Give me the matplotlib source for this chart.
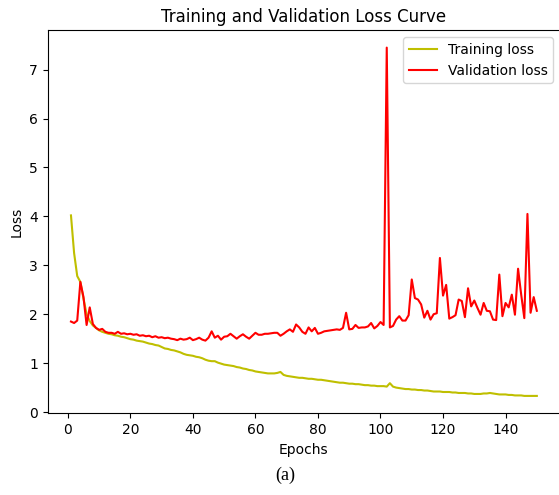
import matplotlib
matplotlib.use("Agg")
import matplotlib.pyplot as plt

# loss values per epoch
train_loss = [
    4.02, 3.25, 2.78, 2.66, 2.32, 2.00, 1.86, 1.77, 1.72, 1.67, 1.64, 1.62, 1.60, 1.59, 1.57,
    1.56, 1.54, 1.53, 1.51, 1.49, 1.48, 1.46, 1.45, 1.44, 1.42, 1.40, 1.39, 1.37, 1.36, 1.33,
    1.30, 1.29, 1.27, 1.26, 1.24, 1.22, 1.19, 1.17, 1.16, 1.15, 1.13, 1.12, 1.10, 1.07, 1.05,
    1.04, 1.04, 1.01, 0.99, 0.97, 0.96, 0.95, 0.94, 0.92, 0.91, 0.89, 0.88, 0.86, 0.85, 0.83,
    0.82, 0.81, 0.80, 0.79, 0.79, 0.79, 0.80, 0.82, 0.76, 0.74, 0.73, 0.72, 0.71, 0.70, 0.70,
    0.69, 0.68, 0.68, 0.67, 0.66, 0.66, 0.65, 0.64, 0.63, 0.62, 0.61, 0.60, 0.60, 0.59, 0.58,
    0.58, 0.57, 0.57, 0.56, 0.55, 0.55, 0.54, 0.54, 0.53, 0.53, 0.53, 0.52, 0.59, 0.52, 0.50,
    0.49, 0.48, 0.47, 0.47, 0.46, 0.46, 0.45, 0.45, 0.44, 0.44, 0.43, 0.42, 0.42, 0.42, 0.41,
    0.41, 0.41, 0.40, 0.40, 0.39, 0.39, 0.39, 0.38, 0.38, 0.37, 0.37, 0.37, 0.38, 0.38, 0.39,
    0.38, 0.37, 0.36, 0.36, 0.36, 0.35, 0.35, 0.34, 0.34, 0.34, 0.33, 0.33, 0.33, 0.33, 0.33,
]

val_loss = [
    1.85, 1.82, 1.87, 2.66, 2.35, 1.78, 2.14, 1.80, 1.72, 1.68, 1.70, 1.64, 1.62, 1.62, 1.60,
    1.64, 1.60, 1.61, 1.59, 1.60, 1.58, 1.59, 1.56, 1.57, 1.55, 1.56, 1.53, 1.55, 1.52, 1.53,
    1.51, 1.52, 1.50, 1.49, 1.47, 1.50, 1.48, 1.49, 1.52, 1.47, 1.49, 1.52, 1.48, 1.46, 1.52,
    1.65, 1.52, 1.56, 1.48, 1.54, 1.55, 1.60, 1.55, 1.50, 1.55, 1.59, 1.54, 1.50, 1.56, 1.62,
    1.58, 1.58, 1.60, 1.60, 1.61, 1.62, 1.62, 1.56, 1.60, 1.65, 1.69, 1.64, 1.79, 1.73, 1.64,
    1.60, 1.73, 1.65, 1.72, 1.60, 1.62, 1.65, 1.66, 1.67, 1.68, 1.69, 1.68, 1.72, 2.03, 1.69,
    1.70, 1.78, 1.72, 1.73, 1.73, 1.75, 1.82, 1.71, 1.76, 1.84, 1.78, 7.45, 1.73, 1.76, 1.89,
    1.96, 1.87, 1.87, 1.98, 2.71, 2.33, 2.30, 2.20, 1.93, 2.07, 1.89, 2.00, 2.02, 3.15, 2.38,
    2.60, 1.91, 1.94, 1.98, 2.30, 2.27, 1.94, 2.53, 2.16, 2.28, 2.13, 1.99, 2.23, 2.07, 2.06,
    1.89, 1.88, 2.81, 1.96, 2.23, 2.14, 2.40, 1.99, 2.93, 2.40, 1.92, 4.05, 2.03, 2.35, 2.07,
]

epochs = list(range(1, len(train_loss) + 1))

fig = plt.figure(figsize=(5.59, 4.95), dpi=100)
ax = fig.add_axes([0.0853, 0.165, 0.9167, 0.774])

ax.plot(epochs, train_loss, 'y', label='Training loss')
ax.plot(epochs, val_loss, 'r', label='Validation loss')
ax.set_title('Training and Validation Loss Curve')
ax.set_xlabel('Epochs')
ax.set_ylabel('Loss')
ax.legend()

fig.text(0.51, 0.04, '(a)', ha='center', va='center',
         family='Liberation Serif', fontsize=13)

fig.savefig('out.png', dpi=100)
